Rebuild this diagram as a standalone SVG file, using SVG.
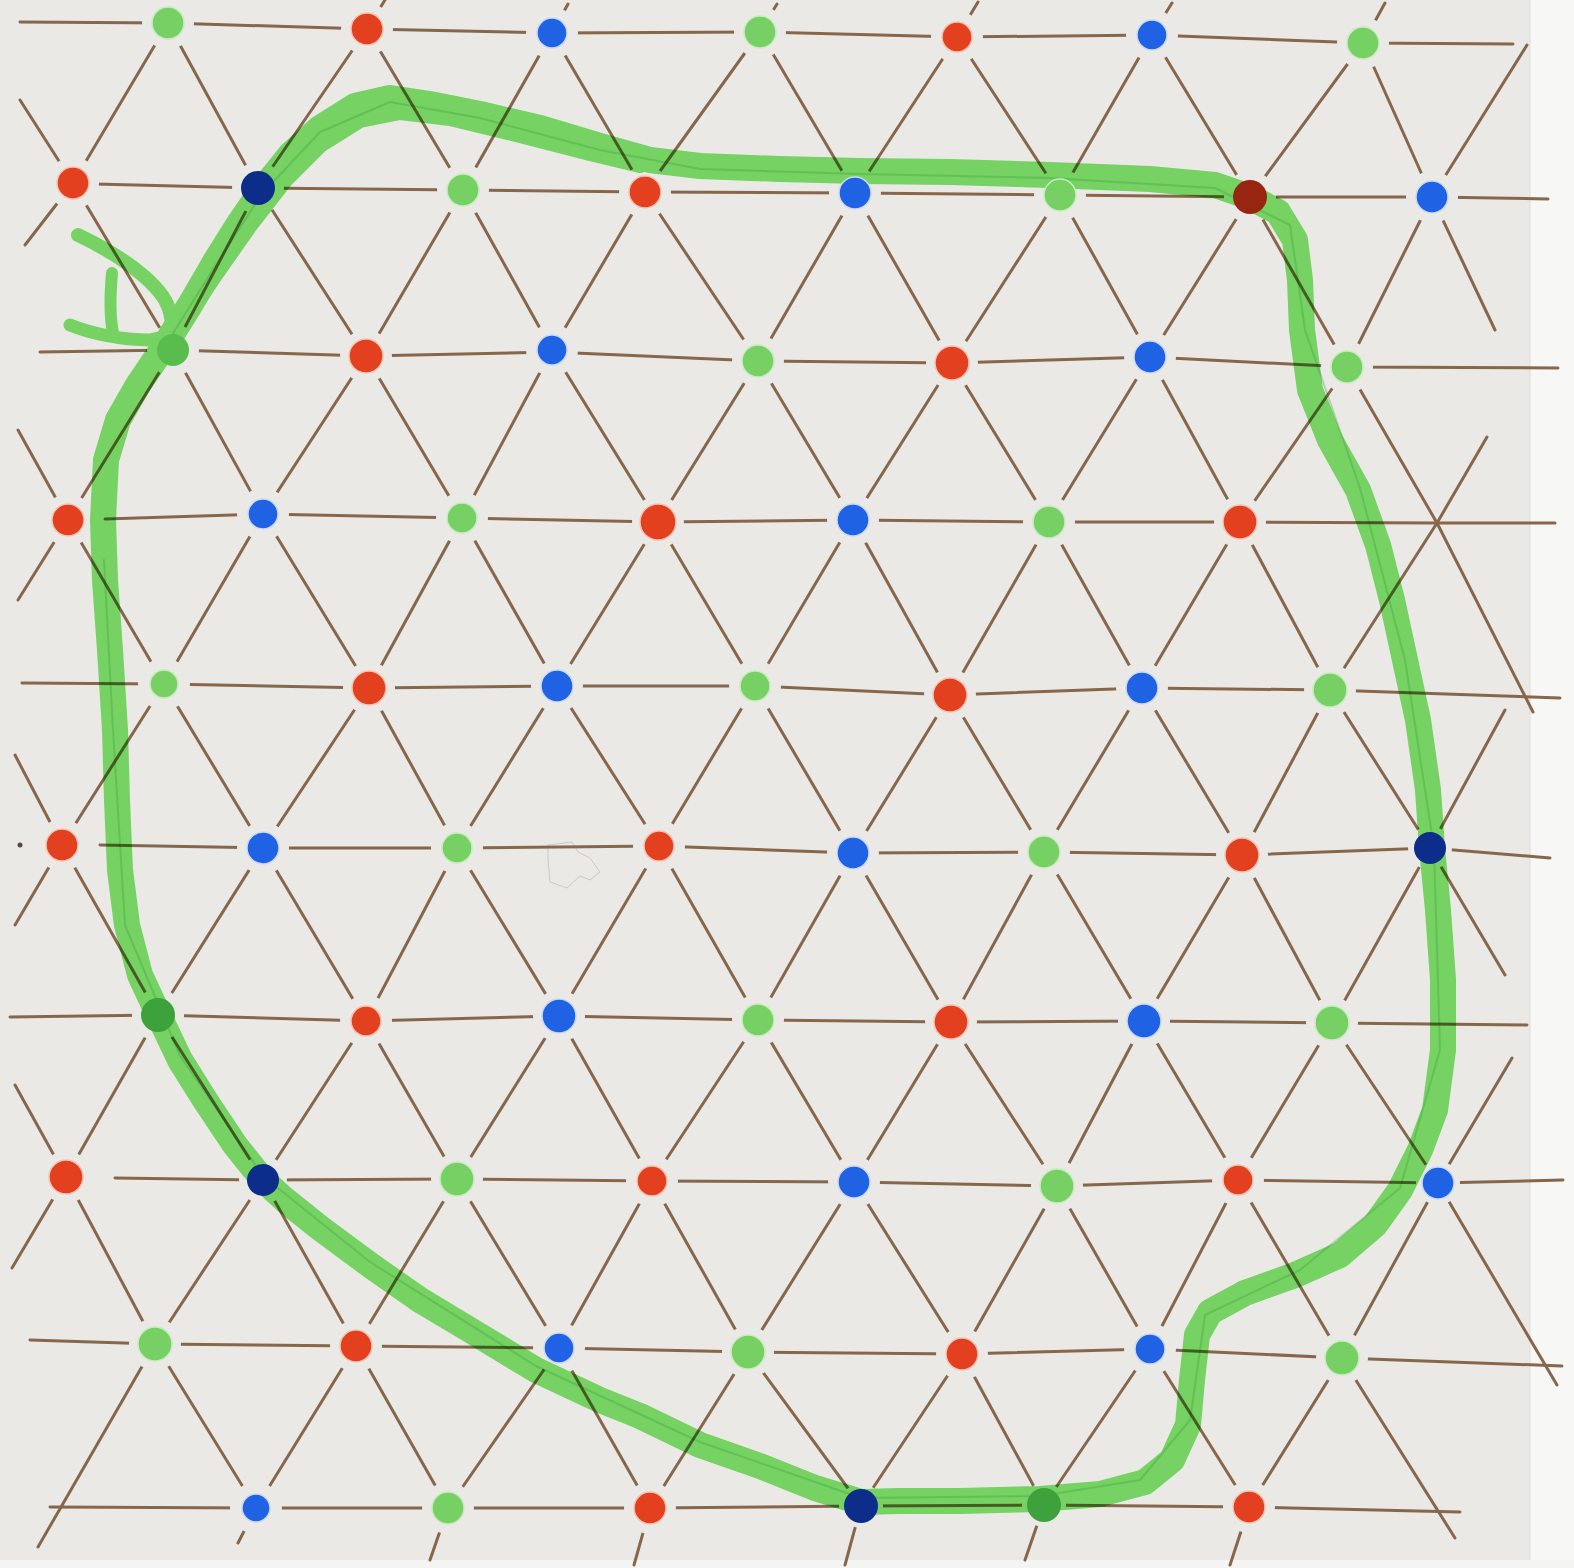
<svg xmlns="http://www.w3.org/2000/svg" width="1574" height="1568" viewBox="0 0 1574 1568">
<style>
.ln{fill:none;stroke:#86674b;stroke-width:3;stroke-linecap:round;stroke-linejoin:round}
.r{fill:#e3401f;stroke:#f5c4b4;stroke-width:1.5}
.b{fill:#1f63e4;stroke:#cbd9f6;stroke-width:1.5}
.g{fill:#76d064;stroke:#c8ecbf;stroke-width:1.5}
.rd{fill:#98250f}
.bd{fill:#0c2d8a}
.gd{fill:#3ea23c}
.gm{fill:#58bd4c}
.loop{fill:none;stroke:#80e66e;stroke-linecap:round;stroke-linejoin:round}
.streak{fill:none;stroke:#3da83a;stroke-width:2;opacity:.3;stroke-linecap:round;stroke-linejoin:round}
.gp{fill:#000}
</style>
<defs>
<mask id="gapmask" maskUnits="userSpaceOnUse" x="0" y="0" width="1574" height="1568">
<rect width="1574" height="1568" fill="#fff"/>
<g fill="#000">
<circle cx="168" cy="23" r="26"/><circle cx="367" cy="29" r="26"/><circle cx="552" cy="33" r="26"/><circle cx="760" cy="32" r="26"/><circle cx="957" cy="37" r="26"/><circle cx="1152" cy="35" r="26"/><circle cx="1363" cy="43" r="26"/>
<circle cx="73" cy="183" r="26"/><circle cx="258" cy="188" r="26"/><circle cx="463" cy="190" r="26"/><circle cx="645" cy="192" r="26"/><circle cx="855" cy="193" r="26"/><circle cx="1060" cy="195" r="26"/><circle cx="1250" cy="197" r="26"/><circle cx="1432" cy="197" r="26"/>
<circle cx="173" cy="350" r="26"/><circle cx="366" cy="356" r="26"/><circle cx="552" cy="350" r="26"/><circle cx="758" cy="361" r="26"/><circle cx="952" cy="363" r="26"/><circle cx="1150" cy="357" r="26"/><circle cx="1347" cy="367" r="26"/>
<circle cx="68" cy="520" r="26"/><circle cx="263" cy="514" r="26"/><circle cx="462" cy="518" r="26"/><circle cx="658" cy="522" r="26"/><circle cx="853" cy="520" r="26"/><circle cx="1049" cy="522" r="26"/><circle cx="1240" cy="522" r="26"/>
<circle cx="164" cy="684" r="26"/><circle cx="369" cy="688" r="26"/><circle cx="557" cy="686" r="26"/><circle cx="755" cy="686" r="26"/><circle cx="950" cy="695" r="26"/><circle cx="1142" cy="688" r="26"/><circle cx="1330" cy="690" r="26"/>
<circle cx="62" cy="845" r="26"/><circle cx="263" cy="848" r="26"/><circle cx="457" cy="848" r="26"/><circle cx="659" cy="846" r="26"/><circle cx="853" cy="853" r="26"/><circle cx="1044" cy="852" r="26"/><circle cx="1242" cy="855" r="26"/><circle cx="1430" cy="848" r="22"/>
<circle cx="158" cy="1015" r="26"/><circle cx="366" cy="1021" r="26"/><circle cx="559" cy="1016" r="26"/><circle cx="758" cy="1020" r="26"/><circle cx="951" cy="1022" r="26"/><circle cx="1144" cy="1021" r="26"/><circle cx="1332" cy="1023" r="26"/>
<circle cx="66" cy="1177" r="26"/><circle cx="263" cy="1180" r="24"/><circle cx="457" cy="1179" r="26"/><circle cx="652" cy="1181" r="26"/><circle cx="854" cy="1182" r="26"/><circle cx="1057" cy="1186" r="26"/><circle cx="1238" cy="1180" r="26"/><circle cx="1438" cy="1183" r="22"/>
<circle cx="155" cy="1344" r="26"/><circle cx="356" cy="1346" r="26"/><circle cx="559" cy="1348" r="26"/><circle cx="748" cy="1352" r="26"/><circle cx="962" cy="1354" r="26"/><circle cx="1150" cy="1349" r="26"/><circle cx="1342" cy="1358" r="26"/>
<circle cx="256" cy="1508" r="26"/><circle cx="448" cy="1508" r="26"/><circle cx="650" cy="1508" r="26"/><circle cx="861" cy="1506" r="22"/><circle cx="1044" cy="1505" r="22"/><circle cx="1249" cy="1507" r="26"/>
</g>
</mask>
</defs>

<g id="paper">
<rect width="1574" height="1568" fill="#eae9e6"/>
<rect x="1530" y="0" width="44" height="1568" fill="#f7f7f6"/>
<rect x="0" y="1560" width="1574" height="8" fill="#f4f4f3"/>
<line x1="1530" y1="0" x2="1530" y2="1560" stroke="#dedddb" stroke-width="1"/>
<path d="M548,845 L572,842 L578,852 L590,858 L600,872 L590,880 L580,876 L567,888 L550,882 L548,860 Z" fill="none" stroke="#c9c9c7" stroke-width="1"/>
</g>

<g id="connectors" mask="url(#gapmask)">
<g class="ln">
<path d="M20,22 L168,23 L367,29 L552,33 L760,32 L957,37 L1152,35 L1363,43 L1513,44"/>
<path d="M95,184 L258,188 L463,190 L645,192 L855,193 L1060,195 L1250,197 L1432,197 L1548,199"/>
<path d="M40,352 L173,350 L366,356 L552,352 L758,361 L952,363 L1150,357 L1347,367 L1558,368"/>
<path d="M105,519 L263,514 L462,518 L658,522 L853,520 L1049,522 L1240,522 L1437,523 L1555,523"/>
<path d="M22,683 L164,684 L369,688 L557,686 L755,686 L950,695 L1142,688 L1330,690 L1560,698"/>
<path d="M100,845 L263,848 L457,848 L659,846 L853,853 L1044,852 L1242,855 L1430,848 L1550,858"/>
<path d="M10,1017 L158,1015 L366,1021 L559,1016 L758,1020 L951,1022 L1144,1021 L1332,1023 L1527,1025"/>
<path d="M115,1178 L263,1180 L457,1179 L652,1181 L854,1182 L1057,1186 L1238,1180 L1438,1183 L1563,1180"/>
<path d="M30,1340 L155,1344 L356,1346 L559,1348 L748,1352 L962,1354 L1150,1349 L1342,1358 L1562,1366"/>
<path d="M50,1507 L256,1508 L448,1508 L650,1508 L861,1506 L1044,1505 L1249,1507 L1460,1512"/>

<path d="M185,6 L168,23 L73,183 L25,245"/>
<path d="M385,0 L367,29 L258,188 L173,350 L68,520 L18,600"/>
<path d="M568,4 L552,33 L463,190 L366,356 L263,514 L164,684 L62,845 L15,925"/>
<path d="M777,4 L760,32 L645,192 L552,350 L462,518 L369,688 L263,848 L158,1015 L66,1177 L12,1268"/>
<path d="M978,2 L957,37 L855,193 L758,361 L658,522 L557,686 L457,848 L366,1021 L263,1180 L155,1344 L38,1547"/>
<path d="M1172,3 L1152,35 L1060,195 L952,363 L853,520 L755,686 L659,846 L559,1016 L457,1179 L356,1346 L256,1508 L238,1543"/>
<path d="M1385,3 L1363,43 L1250,197 L1150,357 L1049,522 L950,695 L853,853 L758,1020 L652,1181 L559,1348 L448,1508 L430,1560"/>
<path d="M1527,45 L1432,197 L1347,367 L1240,522 L1142,688 L1044,852 L951,1022 L854,1182 L748,1352 L650,1508 L634,1565"/>
<path d="M1487,437 L1437,523 L1330,690 L1242,855 L1144,1021 L1057,1186 L962,1354 L861,1506 L845,1565"/>
<path d="M1505,710 L1430,848 L1332,1023 L1238,1180 L1150,1349 L1044,1505 L1025,1560"/>
<path d="M1512,1058 L1438,1183 L1342,1358 L1249,1507 L1230,1565"/>

<path d="M1363,43 L1432,197 L1495,330"/>
<path d="M1152,35 L1250,197 L1347,367 L1437,523 L1533,712"/>
<path d="M957,37 L1060,195 L1150,357 L1240,522 L1330,690 L1430,848 L1505,975"/>
<path d="M760,32 L855,193 L952,363 L1049,522 L1142,688 L1242,855 L1332,1023 L1438,1183 L1557,1385"/>
<path d="M552,33 L645,192 L758,361 L853,520 L950,695 L1044,852 L1144,1021 L1238,1180 L1342,1358 L1455,1538"/>
<path d="M367,29 L463,190 L552,350 L658,522 L755,686 L853,853 L951,1022 L1057,1186 L1150,1349 L1249,1507"/>
<path d="M168,23 L258,188 L366,356 L462,518 L557,686 L659,846 L758,1020 L854,1182 L962,1354 L1044,1505"/>
<path d="M20,100 L73,183 L173,350 L263,514 L369,688 L457,848 L559,1016 L652,1181 L748,1352 L861,1506"/>
<path d="M18,430 L68,520 L164,684 L263,848 L366,1021 L457,1179 L559,1348 L650,1508"/>
<path d="M15,755 L62,845 L158,1015 L263,1180 L356,1346 L448,1508"/>
<path d="M15,1085 L66,1177 L155,1344 L256,1508"/>
</g>
<circle cx="20" cy="845" r="2.5" fill="#5a4a3a"/>
</g>

<g id="loop" style="mix-blend-mode:multiply">
<path class="loop" stroke-width="26" d="M165,345 L190,305 L215,262 L240,222 L262,190 L290,155 L320,128 L355,106 L390,98 L430,104 L480,114 L540,128 L600,146 L650,160 L700,166 L780,169 L860,171 L950,172 L1050,175 L1150,179 L1215,185 L1250,197 L1278,212 L1295,240 L1300,280 L1302,330 L1310,390 L1330,440 L1358,490 L1378,545 L1392,600 L1405,660 L1418,720 L1428,790 L1432,848 L1438,910 L1443,980 L1443,1050 L1435,1110 L1420,1150 L1400,1190 L1375,1225 L1340,1255 L1295,1275 L1245,1293 L1210,1312 L1197,1335 L1192,1380 L1188,1425 L1172,1460 L1145,1482 L1100,1494 L1040,1499 L960,1501 L900,1501 L861,1502 L815,1488 L760,1466 L700,1445 L640,1416 L600,1400 L536,1370 L470,1330 L420,1300 L370,1265 L320,1228 L285,1200 L263,1180 L235,1145 L205,1100 L180,1060 L160,1018 L140,975 L127,925 L120,870 L117,800 L115,730 L110,650 L105,580 L103,520 L106,460 L118,420 L138,385 Z"/>
<path class="loop" stroke-width="16" d="M178,330 L215,275 L250,225 L285,180 L320,145 L360,120 L400,112 L450,118 L520,135 L590,153 L640,165"/>
<path class="loop" stroke-width="14" d="M78,235 C110,250 150,275 165,300 C175,318 172,335 168,342"/>
<path class="loop" stroke-width="12" d="M112,273 C110,295 110,318 113,333"/>
<path class="loop" stroke-width="13" d="M70,325 C90,333 120,340 150,340 L172,335"/>
<path class="streak" d="M172,335 L215,266 L262,194 L320,132 L390,102 L480,118 L600,150 L700,169 L860,174 L1050,178 L1215,188 L1290,225 L1305,330 L1360,488 L1405,660 L1434,848 L1440,1050 L1400,1188 L1300,1270 L1205,1315 L1190,1420 L1140,1480 L1040,1496 L861,1498 L700,1442 L536,1366 L370,1262 L263,1176 L180,1056 L125,925 L113,730 L104,560"/>
</g>

<g id="nodes">
<g id="n0-2"><circle class="g" cx="168" cy="23" r="16"/></g>
<g id="n0-4"><circle class="r" cx="367" cy="29" r="16"/></g>
<g id="n0-6"><circle class="b" cx="552" cy="33" r="15"/></g>
<g id="n0-8"><circle class="g" cx="760" cy="32" r="16"/></g>
<g id="n0-10"><circle class="r" cx="957" cy="37" r="15"/></g>
<g id="n0-12"><circle class="b" cx="1152" cy="35" r="15"/></g>
<g id="n0-14"><circle class="g" cx="1363" cy="43" r="16"/></g>

<g id="n1-1"><circle class="r" cx="73" cy="183" r="16"/></g>
<g id="n1-3"><circle class="bd" cx="258" cy="188" r="17"/></g>
<g id="n1-5"><circle class="g" cx="463" cy="190" r="16"/></g>
<g id="n1-7"><circle class="r" cx="645" cy="192" r="16"/></g>
<g id="n1-9"><circle class="b" cx="855" cy="193" r="16"/></g>
<g id="n1-11"><circle class="g" cx="1060" cy="195" r="16"/></g>
<g id="n1-13"><circle class="rd" cx="1250" cy="197" r="17"/></g>
<g id="n1-15"><circle class="b" cx="1432" cy="197" r="16"/></g>

<g id="n2-2"><circle class="gm" cx="173" cy="350" r="16"/></g>
<g id="n2-4"><circle class="r" cx="366" cy="356" r="17"/></g>
<g id="n2-6"><circle class="b" cx="552" cy="350" r="15"/></g>
<g id="n2-8"><circle class="g" cx="758" cy="361" r="16"/></g>
<g id="n2-10"><circle class="r" cx="952" cy="363" r="17"/></g>
<g id="n2-12"><circle class="b" cx="1150" cy="357" r="16"/></g>
<g id="n2-14"><circle class="g" cx="1347" cy="367" r="16"/></g>

<g id="n3-1"><circle class="r" cx="68" cy="520" r="16"/></g>
<g id="n3-3"><circle class="b" cx="263" cy="514" r="15"/></g>
<g id="n3-5"><circle class="g" cx="462" cy="518" r="15"/></g>
<g id="n3-7"><circle class="r" cx="658" cy="522" r="18"/></g>
<g id="n3-9"><circle class="b" cx="853" cy="520" r="16"/></g>
<g id="n3-11"><circle class="g" cx="1049" cy="522" r="16"/></g>
<g id="n3-13"><circle class="r" cx="1240" cy="522" r="17"/></g>

<g id="n4-2"><circle class="g" cx="164" cy="684" r="14"/></g>
<g id="n4-4"><circle class="r" cx="369" cy="688" r="17"/></g>
<g id="n4-6"><circle class="b" cx="557" cy="686" r="16"/></g>
<g id="n4-8"><circle class="g" cx="755" cy="686" r="15"/></g>
<g id="n4-10"><circle class="r" cx="950" cy="695" r="17"/></g>
<g id="n4-12"><circle class="b" cx="1142" cy="688" r="16"/></g>
<g id="n4-14"><circle class="g" cx="1330" cy="690" r="17"/></g>

<g id="n5-1"><circle class="r" cx="62" cy="845" r="16"/></g>
<g id="n5-3"><circle class="b" cx="263" cy="848" r="16"/></g>
<g id="n5-5"><circle class="g" cx="457" cy="848" r="15"/></g>
<g id="n5-7"><circle class="r" cx="659" cy="846" r="15"/></g>
<g id="n5-9"><circle class="b" cx="853" cy="853" r="16"/></g>
<g id="n5-11"><circle class="g" cx="1044" cy="852" r="16"/></g>
<g id="n5-13"><circle class="r" cx="1242" cy="855" r="17"/></g>
<g id="n5-15"><circle class="bd" cx="1430" cy="848" r="16"/></g>

<g id="n6-2"><circle class="gd" cx="158" cy="1015" r="17"/></g>
<g id="n6-4"><circle class="r" cx="366" cy="1021" r="15"/></g>
<g id="n6-6"><circle class="b" cx="559" cy="1016" r="17"/></g>
<g id="n6-8"><circle class="g" cx="758" cy="1020" r="16"/></g>
<g id="n6-10"><circle class="r" cx="951" cy="1022" r="17"/></g>
<g id="n6-12"><circle class="b" cx="1144" cy="1021" r="17"/></g>
<g id="n6-14"><circle class="g" cx="1332" cy="1023" r="17"/></g>

<g id="n7-1"><circle class="r" cx="66" cy="1177" r="17"/></g>
<g id="n7-3"><circle class="bd" cx="263" cy="1180" r="16"/></g>
<g id="n7-5"><circle class="g" cx="457" cy="1179" r="17"/></g>
<g id="n7-7"><circle class="r" cx="652" cy="1181" r="15"/></g>
<g id="n7-9"><circle class="b" cx="854" cy="1182" r="16"/></g>
<g id="n7-11"><circle class="g" cx="1057" cy="1186" r="17"/></g>
<g id="n7-13"><circle class="r" cx="1238" cy="1180" r="15"/></g>
<g id="n7-15"><circle class="b" cx="1438" cy="1183" r="16"/></g>

<g id="n8-2"><circle class="g" cx="155" cy="1344" r="17"/></g>
<g id="n8-4"><circle class="r" cx="356" cy="1346" r="16"/></g>
<g id="n8-6"><circle class="b" cx="559" cy="1348" r="15"/></g>
<g id="n8-8"><circle class="g" cx="748" cy="1352" r="17"/></g>
<g id="n8-10"><circle class="r" cx="962" cy="1354" r="16"/></g>
<g id="n8-12"><circle class="b" cx="1150" cy="1349" r="15"/></g>
<g id="n8-14"><circle class="g" cx="1342" cy="1358" r="17"/></g>

<g id="n9-3"><circle class="b" cx="256" cy="1508" r="14"/></g>
<g id="n9-5"><circle class="g" cx="448" cy="1508" r="16"/></g>
<g id="n9-7"><circle class="r" cx="650" cy="1508" r="16"/></g>
<g id="n9-9"><circle class="bd" cx="861" cy="1506" r="17"/></g>
<g id="n9-11"><circle class="gd" cx="1044" cy="1505" r="17"/></g>
<g id="n9-13"><circle class="r" cx="1249" cy="1507" r="16"/></g>
</g>
</svg>
